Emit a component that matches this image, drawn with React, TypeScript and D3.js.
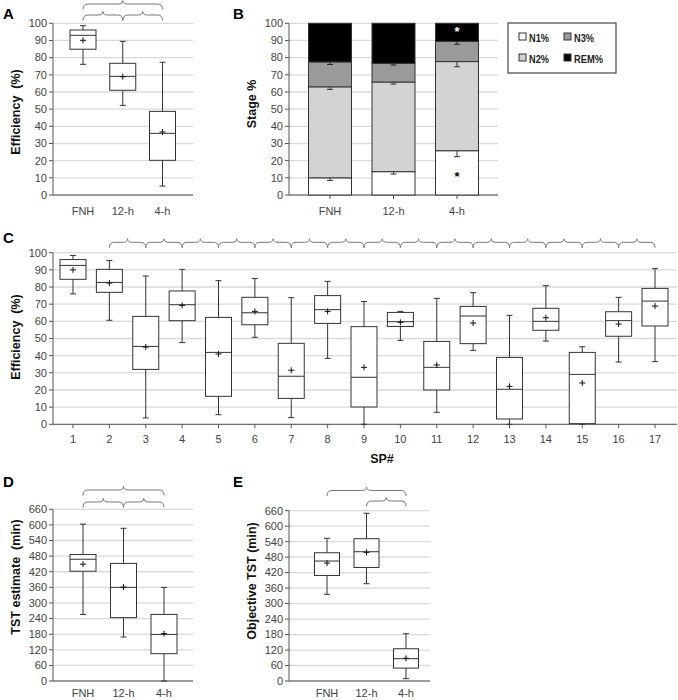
import React from "react";
import * as d3 from "d3";

const FONT = "'Liberation Sans', Arial, Helvetica, sans-serif";

// ---- Panel A: efficiency by condition
const groups = ["FNH", "12-h", "4-h"];
const aLow = [76.1, 52.2, 5.2];
const aQ1 = [84.9, 61, 20.2];
const aMed = [93, 69.1, 35.9];
const aQ3 = [96.1, 76.7, 48.7];
const aHigh = [98.6, 89.5, 77.3];
const aMean = [90.1, 68.9, 36.7];
const effTicks = [0, 10, 20, 30, 40, 50, 60, 70, 80, 90, 100];

// ---- Panel B: stage percentages
const stageNames = ["N1%", "N2%", "N3%", "REM%"];
const stageColors = ["#ffffff", "#d3d3d3", "#9a9a9a", "#000000"];
const n1 = [10, 13.6, 25.8];
const n2 = [53, 52.2, 51.9];
const n3 = [14.5, 10.9, 11.8];
const rem = [22.5, 23.3, 10.5];
const n1Err = [1.5, 1.4, 3.5];
const n2Err = [1.5, 1.2, 3];
const n3Err = [1.5, 1.0, 1.7];

// ---- Panel C: efficiency by sleep period
const spLabels = ["1","2","3","4","5","6","7","8","9","10","11","12","13","14","15","16","17"];
const cLow = [76, 60.6, 3.7, 47.6, 5.6, 50.7, 3.9, 38.4, 0, 48.9, 7, 43.1, 0, 48.5, 0, 36.3, 36.5];
const cQ1 = [84.5, 76.9, 32, 60.4, 16.3, 58, 15.1, 58.8, 10.1, 57, 20, 47, 3.1, 54.8, 0.4, 51.3, 57.3];
const cMed = [92.6, 82.7, 45.4, 69.7, 41.9, 65, 28, 66.8, 27.4, 59.8, 33.2, 63.1, 20.4, 60, 29.1, 60.4, 71.8];
const cQ3 = [96, 90.3, 62.9, 77.7, 62.3, 74, 47.2, 75, 56.9, 65.2, 48.3, 68.7, 39, 67.6, 41.9, 65.6, 79.2];
const cHigh = [98.4, 95.5, 86.4, 90.3, 83.7, 85, 73.8, 83.3, 71.5, 65.8, 73.4, 76.7, 63.5, 80.8, 45.2, 74, 90.7];
const cMean = [90, 82.3, 45, 69.3, 41, 65.8, 31.5, 65.8, 33.2, 59.4, 34.6, 59, 22.1, 62.1, 24.1, 58.4, 68.9];

// ---- Panel D: TST estimate
const dLow = [256, 169, 0];
const dQ1 = [422, 243.5, 105];
const dMed = [468, 360, 179];
const dQ3 = [486, 452, 256];
const dHigh = [603, 587, 360];
const dMean = [449, 361, 182];
const minTicks = [0, 60, 120, 180, 240, 300, 360, 420, 480, 540, 600, 660];

// ---- Panel E: objective TST
const eLow = [336, 377, 9];
const eQ1 = [409, 440, 50];
const eMed = [465, 501, 86.5];
const eQ3 = [497, 551.5, 125];
const eHigh = [553, 650, 183];
const eMean = [457, 498.5, 88];

function Brace({ x1, x2, y }: { x1: number; x2: number; y: number }) {
  const xm = (x1 + x2) / 2;
  const d = 5.5, p = 3.5, r = 5;
  const path = `M${x1},${y + d} Q${x1},${y} ${x1 + r},${y} L${xm - r},${y} Q${xm},${y} ${xm},${y - p} Q${xm},${y} ${xm + r},${y} L${x2 - r},${y} Q${x2},${y} ${x2},${y + d}`;
  return <path d={path} fill="none" stroke="#777" strokeWidth={1} />;
}

function YAxis({ x, y, ticks, gridEnd }: any) {
  return (
    <g>
      {ticks.map((t: number) => (
        <g key={t}>
          <line x1={x} x2={gridEnd} y1={y(t)} y2={y(t)} stroke="#dadada" strokeWidth={1.3} />
          <line x1={x - 4} x2={x} y1={y(t)} y2={y(t)} stroke="#555" />
          <text x={x - 6} y={y(t)} dy="0.35em" textAnchor="end" fontSize={11} fill="#444" fontFamily={FONT}>{t}</text>
        </g>
      ))}
    </g>
  );
}

function YTitle({ x, cy, text }: any) {
  return (
    <text transform={`translate(${x},${cy}) rotate(-90)`} textAnchor="middle" fontSize={12.5} fontWeight="bold" fontFamily={FONT} fill="#111" style={{ whiteSpace: "pre" }}>{text}</text>
  );
}

function Letter({ x, y, t }: any) {
  return <text x={x} y={y} fontSize={15} fontWeight="bold" fontFamily={FONT} fill="#000">{t}</text>;
}

function BoxPanel(props: any) {
  const { axisX, gridEnd, yTop, yBottom, max, ticks, cats, c0, c1, low, q1, med, q3, high, mean, boxW, labelY, xTicks } = props;
  const y = d3.scaleLinear().domain([0, max]).range([yBottom, yTop]);
  const x = d3.scalePoint<string>().domain(cats).range([c0, c1]);
  return (
    <g>
      <YAxis x={axisX} y={y} ticks={ticks} gridEnd={gridEnd} />
      <line x1={axisX} x2={axisX} y1={yTop} y2={yBottom} stroke="#555" />
      <line x1={axisX} x2={gridEnd} y1={yBottom} y2={yBottom} stroke="#555" />
      {cats.map((c: string, i: number) => {
        const cx = x(c)!;
        return (
          <g key={c} stroke="#333" strokeWidth={1}>
            {xTicks && <line x1={cx} x2={cx} y1={yBottom} y2={yBottom + 4} stroke="#555" />}
            <line x1={cx} x2={cx} y1={y(high[i])} y2={y(q3[i])} />
            <line x1={cx} x2={cx} y1={y(q1[i])} y2={y(low[i])} />
            <line x1={cx - 3} x2={cx + 3} y1={y(high[i])} y2={y(high[i])} />
            <line x1={cx - 3} x2={cx + 3} y1={y(low[i])} y2={y(low[i])} />
            <rect x={cx - boxW / 2} width={boxW} y={y(q3[i])} height={y(q1[i]) - y(q3[i])} fill="#fff" />
            <line x1={cx - boxW / 2} x2={cx + boxW / 2} y1={y(med[i])} y2={y(med[i])} />
            <line x1={cx - 3} x2={cx + 3} y1={y(mean[i])} y2={y(mean[i])} stroke="#111" />
            <line x1={cx} x2={cx} y1={y(mean[i]) - 3} y2={y(mean[i]) + 3} stroke="#111" />
            <text x={cx} y={labelY} textAnchor="middle" fontSize={11} fill="#444" stroke="none" fontFamily={FONT}>{c}</text>
          </g>
        );
      })}
      {props.children ? props.children(x) : null}
    </g>
  );
}

function StagePanel() {
  const axisX = 289, gridEnd = 498, yTop = 23.3, yBottom = 195;
  const y = d3.scaleLinear().domain([0, 100]).range([yBottom, yTop]);
  const x = d3.scalePoint<string>().domain(groups).range([330, 457]);
  const barW = 43;
  const series = [n1, n2, n3, rem];
  const errs = [n1Err, n2Err, n3Err];
  return (
    <g>
      <YAxis x={axisX} y={y} ticks={effTicks} gridEnd={gridEnd} />
      <line x1={axisX} x2={axisX} y1={yTop} y2={yBottom} stroke="#555" />
      <line x1={axisX} x2={gridEnd} y1={yBottom} y2={yBottom} stroke="#555" />
      {groups.map((g, i) => {
        const cx = x(g)!;
        let acc = 0;
        const segs = series.map((s, k) => {
          const b = acc;
          acc += s[i];
          return { k, b, t: acc };
        });
        return (
          <g key={g}>
            <line x1={cx} x2={cx} y1={yBottom} y2={yBottom + 4} stroke="#555" />
            {segs.map(({ k, b, t }) => (
              <rect key={k} x={cx - barW / 2} width={barW} y={y(t)} height={y(b) - y(t)} fill={stageColors[k]} stroke="#333" strokeWidth={1} />
            ))}
            {segs.slice(0, 3).map(({ k, t }) => (
              <g key={"e" + k} stroke={k === 2 ? "#222" : "#333"}>
                <line x1={cx} x2={cx} y1={y(t)} y2={y(t - errs[k][i])} />
                <line x1={cx - 3} x2={cx + 3} y1={y(t - errs[k][i])} y2={y(t - errs[k][i])} />
              </g>
            ))}
            <text x={cx} y={215} textAnchor="middle" fontSize={11} fill="#444" fontFamily={FONT}>{g}</text>
          </g>
        );
      })}
      <text x={x("4-h")!} y={y(95.5) + 5} textAnchor="middle" fontSize={13} fontWeight="bold" fill="#fff" fontFamily={FONT}>*</text>
      <text x={x("4-h")!} y={y(11) + 5} textAnchor="middle" fontSize={13} fontWeight="bold" fill="#000" fontFamily={FONT}>*</text>
      <rect x={508} y={23} width={108} height={50} fill="#fff" stroke="#555" strokeWidth={1.3} />
      {stageNames.map((n, k) => {
        const col = k === 0 || k === 1 ? 0 : 1;
        const row = k === 0 || k === 2 ? 0 : 1;
        const sx = 519 + col * 45, sy = 33 + row * 21;
        return (
          <g key={n}>
            <rect x={sx} y={sy} width={7} height={7} fill={stageColors[k]} stroke="#333" />
            <text x={sx + 10} y={sy + 8.5} fontSize={11.5} fontWeight="bold" fill="#222" fontFamily={FONT}
              textLength={k === 3 ? 29 : 20} lengthAdjust="spacingAndGlyphs">{n}</text>
          </g>
        );
      })}
    </g>
  );
}

export default function App() {
  return (
    <svg width={678} height={700} style={{ position: "absolute", left: 0, top: 0, background: "#fff" }} fontFamily={FONT}>
      <rect width={678} height={700} fill="#fff" />
      {/* A */}
      <Letter x={3} y={19} t="A" />
      <YTitle x={20} cy={112} text="Efficiency  (%)" />
      <BoxPanel axisX={53} gridEnd={193} yTop={23.3} yBottom={195} max={100} ticks={effTicks} cats={groups} c0={83} c1={162.5}
        low={aLow} q1={aQ1} med={aMed} q3={aQ3} high={aHigh} mean={aMean} boxW={26} labelY={215}>
        {(x: any) => (
          <g>
            <Brace x1={x("FNH")} x2={x("4-h")} y={4} />
            <Brace x1={x("FNH")} x2={x("12-h")} y={15} />
            <Brace x1={x("12-h")} x2={x("4-h")} y={15} />
          </g>
        )}
      </BoxPanel>
      {/* B */}
      <Letter x={233} y={19} t="B" />
      <YTitle x={256} cy={104} text="Stage %" />
      <StagePanel />
      {/* C */}
      <Letter x={3} y={243} t="C" />
      <YTitle x={20} cy={337} text="Efficiency  (%)" />
      <BoxPanel axisX={53} gridEnd={677} yTop={252.7} yBottom={424.3} max={100} ticks={effTicks} cats={spLabels} c0={73} c1={655}
        low={cLow} q1={cQ1} med={cMed} q3={cQ3} high={cHigh} mean={cMean} boxW={26} labelY={443} xTicks>
        {(x: any) => (
          <g>
            {spLabels.slice(1, 16).map((s, i) => (
              <Brace key={s} x1={x(spLabels[i + 1])} x2={x(spLabels[i + 2])} y={242.3} />
            ))}
          </g>
        )}
      </BoxPanel>
      <text x={382} y={463} textAnchor="middle" fontSize={12.5} fontWeight="bold" fill="#111" fontFamily={FONT}>SP#</text>
      {/* D */}
      <Letter x={3} y={487} t="D" />
      <YTitle x={20} cy={577} text="TST estimate  (min)" />
      <BoxPanel axisX={53} gridEnd={193} yTop={509.3} yBottom={681} max={660} ticks={minTicks} cats={groups} c0={83} c1={164}
        low={dLow} q1={dQ1} med={dMed} q3={dQ3} high={dHigh} mean={dMean} boxW={26} labelY={697}>
        {(x: any) => (
          <g>
            <Brace x1={x("FNH")} x2={x("4-h")} y={490} />
            <Brace x1={x("FNH")} x2={x("12-h")} y={502} />
            <Brace x1={x("12-h")} x2={x("4-h")} y={502} />
          </g>
        )}
      </BoxPanel>
      {/* E */}
      <Letter x={233} y={487} t="E" />
      <YTitle x={256} cy={581} text="Objective TST (min)" />
      <BoxPanel axisX={289} gridEnd={430} yTop={510.7} yBottom={681} max={660} ticks={minTicks} cats={groups} c0={327} c1={406}
        low={eLow} q1={eQ1} med={eMed} q3={eQ3} high={eHigh} mean={eMean} boxW={25} labelY={697}>
        {(x: any) => (
          <g>
            <Brace x1={x("FNH")} x2={x("4-h")} y={490.5} />
            <Brace x1={x("12-h")} x2={x("4-h")} y={501} />
          </g>
        )}
      </BoxPanel>
    </svg>
  );
}
